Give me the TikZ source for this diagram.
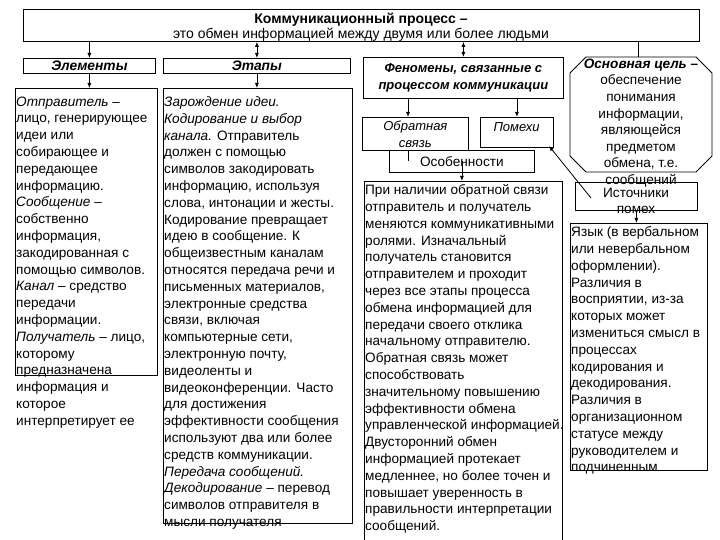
\documentclass[tikz,border=0pt]{standalone}
\usepackage{fontspec}
\setmainfont{Liberation Sans}
\usetikzlibrary{arrows.meta,calc}
\newcommand\mytxtfont{\fontsize{13.6}{16.8}\selectfont}
\begin{document}
\begin{tikzpicture}[x=1pt,y=-1pt,
  box/.style={draw,line width=0.8pt,inner sep=0pt,anchor=north west},
  txt/.style={inner sep=0pt,anchor=north west,align=left,font=\mytxtfont},
  ctxt/.style={inner sep=0pt,align=center,font=\mytxtfont},
  arr/.style={-{Latex[length=5pt,width=4pt]},line width=0.8pt},
  darr/.style={{Latex[length=5pt,width=4pt]}-{Latex[length=5pt,width=4pt]},line width=0.8pt},
  ln/.style={line width=0.8pt}]
\useasboundingbox (0,0) rectangle (720,540);
\fill[white] (0,0) rectangle (720,540);

% title
\node[box,minimum width=676pt,minimum height=32pt] (title) at (23,9) {};
\node[ctxt,font=\fontsize{14}{15}\selectfont] (titletxt) at (361,27.5) {\textbf{Коммуникационный процесс –}\\это обмен информацией между двумя или более людьми};

% headers
\node[box,minimum width=132pt,minimum height=15pt,font=\fontsize{13.8}{16}\selectfont\bfseries\itshape] (elh) at (23,58) {Элементы};
\node[box,minimum width=187pt,minimum height=15pt,font=\fontsize{13.8}{16}\selectfont\bfseries\itshape] (eth) at (163,58) {Этапы};
\node[box,minimum width=200pt,minimum height=41pt,align=center,font=\fontsize{13}{16.8}\selectfont\bfseries\itshape] (fen) at (363,57) {Феномены, связанные с\\процессом коммуникации};

% elements
\node[box,minimum width=142pt,minimum height=287pt] (elb) at (15,88) {};
\node[txt] (elt) at (16,96.5) {\textit{Отправитель} –\\
лицо, генерирующее\\
идеи или\\
собирающее и\\
передающее\\
информацию.\\
\textit{Сообщение} –\\
собственно\\
информация,\\
закодированная с\\
помощью символов.\\
\textit{Канал} – средство\\
передачи\\
информации.\\
\textit{Получатель} – лицо,\\
которому\\
предназначена\\
информация и\\
которое\\
интерпретирует ее};

% stages
\node[box,minimum width=189pt,minimum height=435pt] (etb) at (163,88) {};
\node[txt] (ett) at (164,96.5) {\textit{Зарождение идеи.}\\
\textit{Кодирование и выбор}\\
\textit{канала.} Отправитель\\
должен с помощью\\
символов закодировать\\
информацию, используя\\
слова, интонации и жесты.\\
Кодирование превращает\\
идею в сообщение. К\\
общеизвестным каналам\\
относятся передача речи и\\
письменных материалов,\\
электронные средства\\
связи, включая\\
компьютерные сети,\\
электронную почту,\\
видеоленты и\\
видеоконференции. Часто\\
для достижения\\
эффективности сообщения\\
используют два или более\\
средств коммуникации.\\
\textit{Передача сообщений.}\\
\textit{Декодирование} – перевод\\
символов отправителя в\\
мысли получателя};

% phenomena
\node[box,minimum width=106pt,minimum height=33pt,align=center,font=\fontsize{13}{16.8}\selectfont\itshape] (obr) at (362,117) {Обратная\\связь};
\node[box,minimum width=73pt,minimum height=30pt] (pom) at (480,117) {};
\node[ctxt,font=\fontsize{13}{16}\selectfont\itshape] (pomt) at (516.5,127) {Помехи};
\node[box,minimum width=145pt,minimum height=22pt,font=\mytxtfont] (osb) at (389,150) {Особенности};

\node[box,minimum width=198pt,minimum height=370pt] (fb) at (364,181) {};
\node[txt] (fbt) at (365,184.5) {При наличии обратной связи\\
отправитель и получатель\\
меняются коммуникативными\\
ролями. Изначальный\\
получатель становится\\
отправителем и проходит\\
через все этапы процесса\\
обмена информацией для\\
передачи своего отклика\\
начальному отправителю.\\
Обратная связь может\\
способствовать\\
значительному повышению\\
эффективности обмена\\
управленческой информацией.\\
Двусторонний обмен\\
информацией протекает\\
медленнее, но более точен и\\
повышает уверенность в\\
правильности интерпретации\\
сообщений.};

% goal octagon
\draw[ln] (586,57) -- (696,57) -- (712,73) -- (712,156) -- (696,172) -- (586,172) -- (570,156) -- (570,73) -- cycle;
\coordinate (octtop) at (638,57);
\node[ctxt,font=\fontsize{13.6}{16.6}\selectfont] (octt) at (641,123) {\textbf{\textit{Основная цель –}}\\обеспечение\\понимания\\информации,\\являющейся\\предметом\\обмена, т.е.\\сообщений};

% sources of noise
\node[box,minimum width=122pt,minimum height=28pt] (ist) at (575,182) {};
\node[ctxt,font=\fontsize{13.6}{16}\selectfont] (istt) at (636,201) {Источники\\помех};
\node[box,minimum width=137pt,minimum height=247pt] (lang) at (570,223) {};
\node[txt] (langt) at (571,226.5) {Язык (в вербальном\\
или невербальном\\
оформлении).\\
Различия в\\
восприятии, из-за\\
которых может\\
измениться смысл в\\
процессах\\
кодирования и\\
декодирования.\\
Различия в\\
организационном\\
статусе между\\
руководителем и\\
подчиненным};

% connectors
\draw[arr] (title.south -| elh.north) -- (elh.north);
\draw[darr] (title.south -| eth.north) -- (eth.north);
\draw[darr] (title.south -| fen.north) -- (fen.north);
\draw[ln] (title.south -| octtop) -- (octtop);
\draw[arr] (elh.south) -- (elb.north -| elh.south);
\draw[arr] (eth.south) -- (etb.north -| eth.south);
\coordinate (obrx) at (408,0);
\draw[arr] (fen.south -| obrx) -- (obr.north -| obrx);
\draw[arr] (fen.south -| pom.north) -- (pom.north);
\draw[ln] (obr.south -| obrx) -- ++(0,10);
\draw[arr] (osb.center) -- (fb.north -| osb.center);
\coordinate (istfrom) at (591,198);
\coordinate (pomto) at (549,146);
\draw[arr] (istfrom) -- (pomto);
\draw[arr] (ist.south) -- (lang.north -| ist.south);
\end{tikzpicture}
\end{document}
